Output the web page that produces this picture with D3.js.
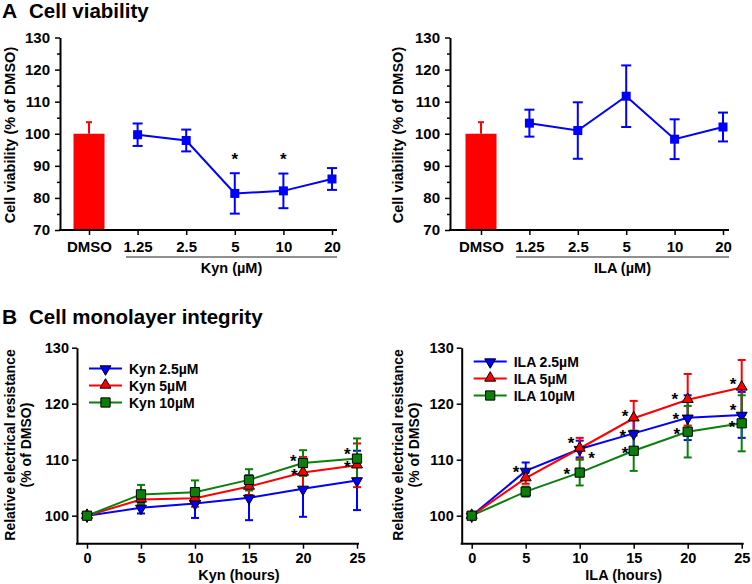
<!DOCTYPE html>
<html><head><meta charset="utf-8">
<script src="https://cdn.jsdelivr.net/npm/d3@7"></script>
<style>
body{margin:0;background:#fff;}
svg{display:block;font-family:"Liberation Sans",Arial,sans-serif;font-weight:bold;}
</style></head><body>
<svg id="c" width="752" height="584"></svg>
<script>
// ---------------- data ----------------
const doseCats = ["DMSO", "1.25", "2.5", "5", "10", "20"];
const yTicksA = [70, 80, 90, 100, 110, 120, 130];
const yMinorA = [75, 85, 95, 105, 115, 125];
const dmsoMean = 100, dmsoErr = 3.6;
const kynDoseMean = [99.7, 97.9, 81.4, 82.2, 85.9];
const kynDoseErr = [3.5, 3.4, 6.3, 5.4, 3.4];
const kynDoseStars = [["5", 93.4], ["10", 93.4]];
const ilaDoseMean = [103.3, 101.0, 111.7, 98.3, 102.1];
const ilaDoseErr = [4.2, 8.8, 9.6, 6.2, 4.5];
const ilaDoseStars = [];

const hours = [0, 5, 10, 15, 20, 25];
const yTicksB = [100, 110, 120, 130];
const kyn25 = [100, 101.4, 102.2, 103.2, 104.8, 106.3];
const kyn25Err = [0.3, 1.0, 2.6, 4.0, 5.0, 5.3];
const kyn5 = [100, 102.9, 103.1, 105.2, 107.7, 109.0];
const kyn5Err = [0.3, 1.0, 1.5, 1.5, 2.8, 3.9];
const kyn10 = [100, 103.8, 104.2, 106.4, 109.4, 110.2];
const kyn10Err = [0.3, 1.7, 2.1, 1.9, 2.3, 3.6];
const kynStars = [[19.1, 110.5], [19.2, 107.9], [24.1, 111.7], [24.1, 109.4]];

const ila25 = [100, 108.0, 111.9, 114.7, 117.5, 118.0];
const ila25Err = [0.3, 1.5, 1.5, 2.5, 4.0, 4.1];
const ila5 = [100, 106.7, 112.0, 117.4, 120.7, 122.9];
const ila5Err = [0.3, 1.0, 1.9, 3.1, 4.6, 4.9];
const ila10 = [100, 104.3, 107.7, 111.6, 115.0, 116.5];
const ila10Err = [0.3, 0.9, 2.3, 3.6, 4.6, 5.0];
const ilaStars = [[4.1, 108.5], [9.2, 113.7], [11.1, 111.0], [8.8, 108.2],
  [14.2, 118.5], [14.0, 114.9], [14.2, 111.9],
  [18.8, 121.6], [18.9, 118.0], [19.0, 115.3],
  [24.2, 124.2], [24.2, 119.5], [24.1, 116.6]];

// ---------------- drawing ----------------
const svg = d3.select("#c");
const FONT = '"Liberation Sans",Arial,sans-serif';
const BLUE = "#0000ff", RED = "#ff0000", GREEN = "#0a800a";

function styleAxis(g, fs) {
  g.attr("font-family", FONT).attr("font-size", fs).attr("font-weight", "bold");
  g.selectAll("text").attr("fill", "#000");
  g.selectAll(".tick line").attr("stroke", "#000").attr("stroke-width", 1.5);
}

function title(x, y, letter, text) {
  svg.append("text").attr("x", x).attr("y", y).attr("font-size", 21).text(letter);
  svg.append("text").attr("x", x + 27).attr("y", y).attr("font-size", 20.5).text(text);
}
title(2, 17.5, "A", "Cell viability");
title(2, 323.5, "B", "Cell monolayer integrity");

function doseChart(cfg) {
  const g = svg.append("g");
  const y = d3.scaleLinear().domain([70, 130]).range([230, 37.5]);
  const x = d3.scalePoint().domain(doseCats).range([cfg.ax + cfg.o0, cfg.ax + cfg.o1]);
  // bar
  g.append("rect").attr("x", x("DMSO") - 15.5).attr("width", 31)
    .attr("y", y(dmsoMean)).attr("height", y(70) - y(dmsoMean)).attr("fill", RED);
  g.append("line").attr("x1", x("DMSO")).attr("x2", x("DMSO"))
    .attr("y1", y(dmsoMean)).attr("y2", y(dmsoMean + dmsoErr)).attr("stroke", RED).attr("stroke-width", 2);
  g.append("line").attr("x1", x("DMSO") - 3).attr("x2", x("DMSO") + 3)
    .attr("y1", y(dmsoMean + dmsoErr)).attr("y2", y(dmsoMean + dmsoErr)).attr("stroke", RED).attr("stroke-width", 2);
  // y axis
  const ya = g.append("g").attr("transform", `translate(${cfg.ax},0)`)
    .call(d3.axisLeft(y).tickValues(yTicksA).tickSize(5).tickPadding(5).tickSizeOuter(0));
  styleAxis(ya, 15);
  ya.select(".domain").attr("stroke", "#000").attr("stroke-width", 2);
  const ym = g.append("g").attr("transform", `translate(${cfg.ax},0)`)
    .call(d3.axisLeft(y).tickValues(yMinorA).tickSize(3).tickFormat(""));
  ym.select(".domain").remove();
  ym.selectAll(".tick line").attr("stroke", "#000").attr("stroke-width", 1.5);
  // x axis
  const xa = g.append("g").attr("transform", "translate(0,230)")
    .call(d3.axisBottom(x).tickSize(5).tickPadding(6).tickSizeOuter(0));
  styleAxis(xa, 15);
  xa.select(".domain").remove();
  g.append("line").attr("x1", cfg.ax - 1).attr("x2", cfg.ax + cfg.end).attr("y1", 230).attr("y2", 230)
    .attr("stroke", "#000").attr("stroke-width", 2);
  // underline + label
  g.append("line").attr("x1", cfg.ax + 66).attr("x2", cfg.ax + cfg.end).attr("y1", 257).attr("y2", 257)
    .attr("stroke", "#222").attr("stroke-width", 1.2);
  g.append("text").attr("x", cfg.ax + (66 + cfg.end) / 2).attr("y", 273).attr("text-anchor", "middle")
    .attr("font-size", 14.5).text(cfg.label);
  // y label
  g.append("text").attr("transform", `translate(${cfg.ylx},135) rotate(-90)`).attr("text-anchor", "middle")
    .attr("font-size", 14.5).text("Cell viability (% of DMSO)");
  // series
  const cats = doseCats.slice(1);
  g.append("path").datum(cfg.mean).attr("fill", "none").attr("stroke", BLUE).attr("stroke-width", 2)
    .attr("d", d3.line().x((d, i) => x(cats[i])).y(d => y(d)));
  cfg.mean.forEach((m, i) => {
    const cx = x(cats[i]), e = cfg.err[i];
    g.append("line").attr("x1", cx).attr("x2", cx).attr("y1", y(m - e)).attr("y2", y(m + e))
      .attr("stroke", BLUE).attr("stroke-width", 2);
    [m - e, m + e].forEach(v => g.append("line").attr("x1", cx - 5).attr("x2", cx + 5)
      .attr("y1", y(v)).attr("y2", y(v)).attr("stroke", BLUE).attr("stroke-width", 2));
    g.append("rect").attr("x", cx - 4.5).attr("y", y(m) - 4.5).attr("width", 9).attr("height", 9).attr("fill", BLUE);
  });
  cfg.stars.forEach(s => g.append("text").attr("x", x(s[0])).attr("y", y(s[1])).attr("dy", "0.58em")
    .attr("text-anchor", "middle").attr("font-size", 17).text("*"));
}

doseChart({ ax: 60, o0: 29, o1: 272, end: 277, label: "Kyn (\u00b5M)", ylx: 15,
  mean: kynDoseMean, err: kynDoseErr, stars: kynDoseStars });
doseChart({ ax: 450, o0: 31, o1: 273, end: 279, label: "ILA (\u00b5M)", ylx: 403,
  mean: ilaDoseMean, err: ilaDoseErr, stars: ilaDoseStars });

const triUp = d3.symbol().type(d3.symbolTriangle).size(52);
const sq = d3.symbol().type(d3.symbolSquare).size(85);

function marker(g, type, cx, cy, color) {
  const p = g.append("path").attr("fill", color).attr("stroke", "#000").attr("stroke-width", 1);
  if (type === "down") p.attr("d", triUp()).attr("transform", `translate(${cx},${cy + 0.5}) rotate(180)`);
  else if (type === "up") p.attr("d", triUp()).attr("transform", `translate(${cx},${cy - 0.5})`);
  else p.attr("d", sq()).attr("transform", `translate(${cx},${cy})`);
}

function timeChart(cfg) {
  const g = svg.append("g");
  const y = d3.scaleLinear().domain([95, 130]).range([543.7, 347.7]);
  const x = d3.scaleLinear().domain([0, 25]).range([cfg.ax + 10, cfg.ax + 280]);
  const ya = g.append("g").attr("transform", `translate(${cfg.ax},0)`)
    .call(d3.axisLeft(y).tickValues(yTicksB).tickSize(5).tickPadding(3).tickSizeOuter(0));
  styleAxis(ya, 14.5);
  ya.select(".domain").attr("stroke", "#000").attr("stroke-width", 2);
  const xa = g.append("g").attr("transform", "translate(0,543.7)")
    .call(d3.axisBottom(x).tickValues(hours).tickSize(5).tickPadding(4).tickSizeOuter(0));
  styleAxis(xa, 14.5);
  xa.select(".domain").remove();
  g.append("line").attr("x1", cfg.ax - 1).attr("x2", cfg.ax + 282).attr("y1", 543.7).attr("y2", 543.7)
    .attr("stroke", "#000").attr("stroke-width", 2);
  g.append("text").attr("x", cfg.ax + 162).attr("y", 580).attr("text-anchor", "middle")
    .attr("font-size", 14.5).text(cfg.label);
  g.append("text").attr("transform", `translate(${cfg.ylx},445) rotate(-90)`).attr("text-anchor", "middle")
    .attr("font-size", 14).text("Relative electrical resistance");
  g.append("text").attr("transform", `translate(${cfg.ylx + 16},445) rotate(-90)`).attr("text-anchor", "middle")
    .attr("font-size", 14).text("(% of DMSO)");
  // series: lines + error bars first, then markers (blue, red, green order)
  cfg.series.forEach(s => {
    g.append("path").datum(s.mean).attr("fill", "none").attr("stroke", s.color).attr("stroke-width", 2)
      .attr("d", d3.line().x((d, i) => x(hours[i])).y(d => y(d)));
  });
  cfg.series.forEach(s => {
    s.mean.forEach((m, i) => {
      const cx = x(hours[i]), e = s.err[i];
      g.append("line").attr("x1", cx).attr("x2", cx).attr("y1", y(m - e)).attr("y2", y(m + e))
        .attr("stroke", s.color).attr("stroke-width", 2);
      [m - e, m + e].forEach(v => g.append("line").attr("x1", cx - 4).attr("x2", cx + 4)
        .attr("y1", y(v)).attr("y2", y(v)).attr("stroke", s.color).attr("stroke-width", 2));
    });
  });
  cfg.series.forEach(s => {
    s.mean.forEach((m, i) => marker(g, s.shape, x(hours[i]), y(m), s.color));
  });
  cfg.stars.forEach(s => g.append("text").attr("x", x(s[0])).attr("y", y(s[1])).attr("dy", "0.58em")
    .attr("text-anchor", "middle").attr("font-size", 17).text("*"));
  // legend
  cfg.series.forEach((s, i) => {
    const ly = cfg.legY + i * 17;
    g.append("line").attr("x1", cfg.ax + 12).attr("x2", cfg.ax + 45).attr("y1", ly).attr("y2", ly)
      .attr("stroke", s.color).attr("stroke-width", 2);
    marker(g, s.shape, cfg.ax + 28.5, ly, s.color);
    g.append("text").attr("x", cfg.ax + 52).attr("y", ly).attr("dy", "0.36em")
      .attr("font-size", 14).text(s.name);
  });
}

timeChart({ ax: 77, label: "Kyn (hours)", ylx: 15, legY: 368.5, stars: kynStars, series: [
  { name: "Kyn 2.5\u00b5M", mean: kyn25, err: kyn25Err, color: BLUE, shape: "down" },
  { name: "Kyn 5\u00b5M", mean: kyn5, err: kyn5Err, color: RED, shape: "up" },
  { name: "Kyn 10\u00b5M", mean: kyn10, err: kyn10Err, color: GREEN, shape: "square" }] });
timeChart({ ax: 461.7, label: "ILA (hours)", ylx: 403, legY: 361.5, stars: ilaStars, series: [
  { name: "ILA 2.5\u00b5M", mean: ila25, err: ila25Err, color: BLUE, shape: "down" },
  { name: "ILA 5\u00b5M", mean: ila5, err: ila5Err, color: RED, shape: "up" },
  { name: "ILA 10\u00b5M", mean: ila10, err: ila10Err, color: GREEN, shape: "square" }] });
</script>
</body></html>
